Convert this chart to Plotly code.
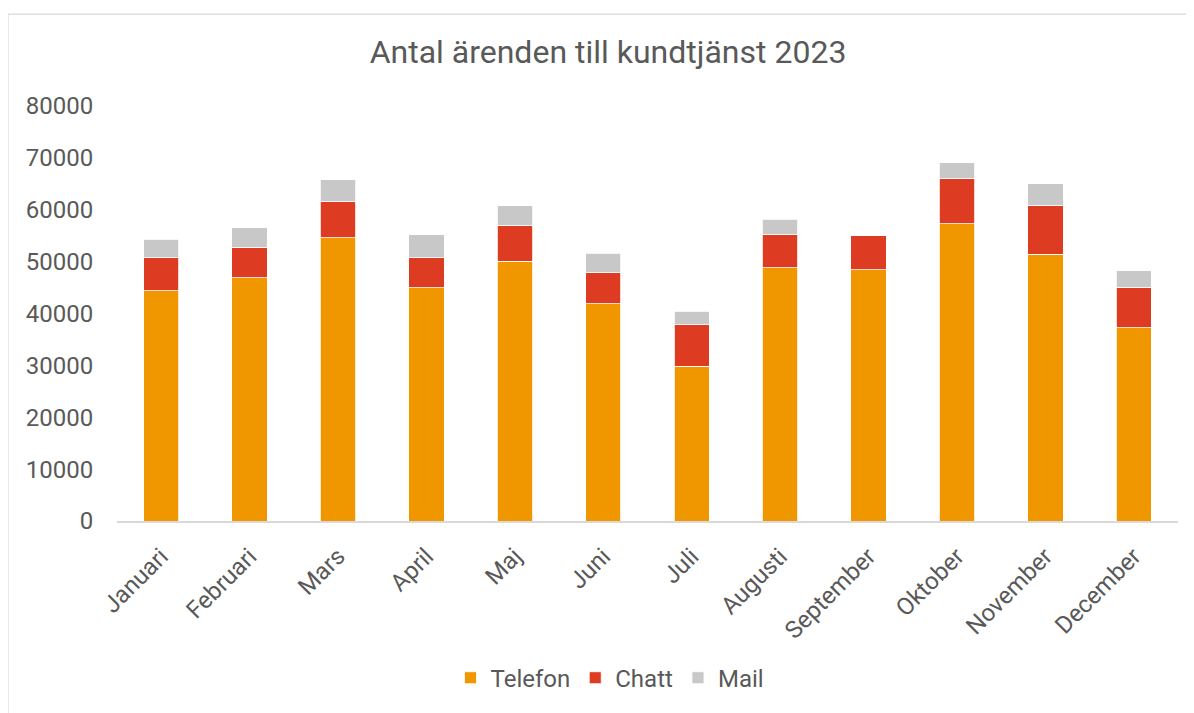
import plotly.graph_objects as go

months = ["Januari", "Februari", "Mars", "April", "Maj", "Juni", "Juli",
          "Augusti", "September", "Oktober", "November", "December"]
telefon = [44400, 46900, 54600, 45000, 50100, 41900, 29800, 48800, 48400, 57300, 51400, 37300]
chatt = [6300, 5900, 6900, 5700, 6900, 6100, 8000, 6500, 6600, 8800, 9500, 7800]
mail = [3600, 3700, 4300, 4500, 3800, 3600, 2600, 2900, 0, 3000, 4100, 3100]
y_ticks = [0, 10000, 20000, 30000, 40000, 50000, 60000, 70000, 80000]

OFF = 8  # page body margin
W, H = 1194 - OFF, 713 - OFF
# page pixel positions of the plot area
PL, PR, PT, PB = 117, 1178, 106, 526
L, T = PL - OFF, PT - OFF
R, B = W - (PR - OFF), H - (PB - OFF)
TXT = "#595959"

fig = go.Figure()
for name, vals, col in [("Telefon", telefon, "#F09700"),
                        ("Chatt", chatt, "#DE3C22"),
                        ("Mail", mail, "#C8C8C8")]:
    fig.add_trace(go.Bar(x=months, y=vals, name=name,
                         marker=dict(color=col, line=dict(color="white", width=0.8))))

pw = PR - PL
ph = PB - PT
def px_x(x): return (x - PL) / pw
def px_y(y): return (PB - y) / ph

fig.update_layout(
    width=W, height=H,
    margin=dict(l=L, r=R, t=T, b=B),
    barmode="stack", bargap=0.6,
    paper_bgcolor="white", plot_bgcolor="white",
    font=dict(family="Roboto", color=TXT, size=24),
    title=dict(text="Antal ärenden till kundtjänst 2023", xref="paper", x=px_x(608),
               xanchor="center", y=1 - (52 - OFF) / H, yanchor="middle",
               font=dict(size=32, color=TXT)),
    xaxis=dict(tickangle=-45, showline=True, linecolor="#D9D9D9", linewidth=1.5,
               ticks="outside", ticklen=10, tickcolor="rgba(0,0,0,0)",
               tickfont=dict(size=24, color=TXT), showgrid=False, fixedrange=True),
    yaxis=dict(range=[0, 80000], tickvals=y_ticks, tickformat="d", showgrid=False,
               zeroline=False, ticks="outside", ticklen=18, tickcolor="rgba(0,0,0,0)",
               tickfont=dict(size=24, color=TXT), fixedrange=True),
    legend=dict(orientation="h", x=px_x(610), xanchor="center", y=px_y(685),
                yanchor="middle", font=dict(size=24, color=TXT), traceorder="normal",
                itemwidth=30),
    showlegend=True,
)
fig.add_shape(type="rect", xref="paper", yref="paper",
              x0=px_x(8), y0=px_y(760), x1=px_x(1240), y1=px_y(13),
              line=dict(color="#D9D9D9", width=1.2), fillcolor="rgba(0,0,0,0)", layer="below")

fig.write_html("out.html")
